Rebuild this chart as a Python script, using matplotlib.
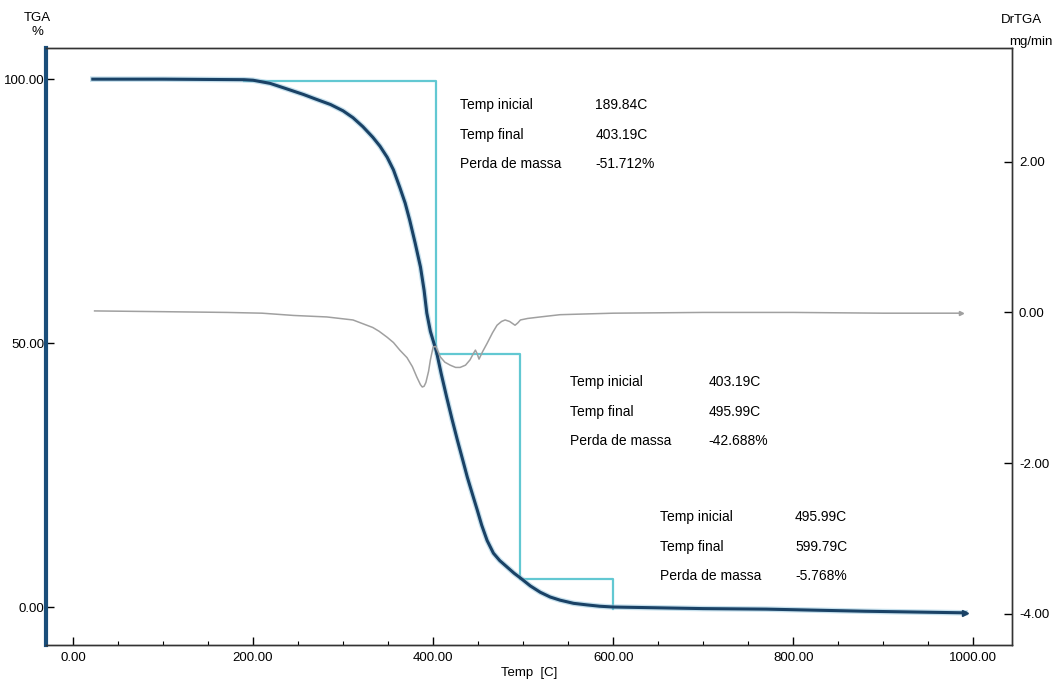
import numpy as np
import matplotlib.pyplot as plt
from matplotlib.ticker import MultipleLocator, FormatStrFormatter

plt.rcParams['font.family'] = ['Liberation Sans Narrow', 'Liberation Sans', 'DejaVu Sans']

# curva TGA (%)
temp_tga = [22, 100, 190, 200, 219, 235, 256, 270, 286, 300, 311, 322, 333, 341, 349, 356,
            363, 369, 374, 380, 386, 390, 393, 397, 400, 404, 409, 415, 421, 427, 433, 438,
            444, 449, 454, 460, 467, 474, 482, 490, 497, 508, 519, 530, 541, 556, 571, 585,
            600, 700, 770, 880, 991]
tga = [100.0, 100.0, 99.9, 99.8, 99.2, 98.3, 97.1, 96.2, 95.2, 94.0, 92.7, 91.0, 89.0, 87.3,
       85.2, 82.8, 79.5, 76.5, 73.3, 69.0, 64.4, 60.0, 55.7, 52.2, 50.5, 48.2, 44.2, 39.8,
       35.6, 31.6, 27.8, 24.6, 21.2, 18.4, 15.5, 12.6, 10.2, 8.8, 7.6, 6.4, 5.5, 4.0, 2.8,
       1.9, 1.3, 0.7, 0.4, 0.15, 0.0, -0.3, -0.4, -0.8, -1.1]

# curva DrTGA (mg/min)
temp_dr = [24, 100, 171, 210, 245, 282, 311, 322, 333, 340, 349, 356, 363, 371, 377, 382,
           386, 388, 390, 392, 395, 397, 400, 403, 408, 413, 419, 425, 430, 436, 441, 445,
           447, 449, 451, 455, 460, 466, 471, 476, 480, 485, 491, 494, 497, 505, 519, 541,
           570, 600, 700, 800, 900, 986]
drtga = [0.02, 0.01, 0.0, -0.01, -0.04, -0.06, -0.10, -0.15, -0.20, -0.25, -0.33, -0.40,
         -0.50, -0.60, -0.72, -0.86, -0.96, -0.99, -0.98, -0.93, -0.78, -0.63, -0.46, -0.45,
         -0.59, -0.66, -0.70, -0.73, -0.73, -0.70, -0.63, -0.54, -0.50, -0.55, -0.62, -0.52,
         -0.41, -0.27, -0.17, -0.12, -0.10, -0.12, -0.17, -0.14, -0.10, -0.08, -0.06, -0.03,
         -0.02, -0.01, 0.0, 0.0, -0.01, -0.01]

# etapas de perda de massa
t_inicial = [189.84, 403.19, 495.99]
t_final = [403.19, 495.99, 599.79]
perda = [-51.712, -42.688, -5.768]
nivel_inicial = 99.7

fig = plt.figure(figsize=(10.57, 6.83), dpi=100)
ax = fig.add_axes([0.0435, 0.0556, 0.9139, 0.8741])
ax2 = ax.twinx()

# degraus
sx, sy = [], []
nivel = nivel_inicial
for ti, tf, p in zip(t_inicial, t_final, perda):
    sx += [ti, tf, tf]
    sy += [nivel, nivel, nivel + p]
    nivel = nivel + p
ax.plot(sx, sy, color='#62c8d2', lw=1.6, zorder=2)

ax.plot(temp_tga, tga, color='#8fc3dc', lw=4.0, alpha=0.5, zorder=3)
ax.plot(temp_tga, tga, color='#1a4266', lw=2.2, zorder=4)
ax.plot(temp_tga[-1], tga[-1], marker='>', ms=4, color='#1a4266', zorder=4)

ax2.plot(temp_dr, drtga, color='#a0a0a0', lw=1.1)
ax2.plot(temp_dr[-1], drtga[-1], marker='>', ms=3, color='#a0a0a0')

ax.set_xlim(-30, 1043)
ax.set_ylim(-7.2, 105.9)
ax2.set_ylim(-4.415, 3.51)

ax.xaxis.set_major_locator(MultipleLocator(200))
ax.xaxis.set_minor_locator(MultipleLocator(50))
ax.yaxis.set_major_locator(MultipleLocator(50))
ax2.yaxis.set_major_locator(MultipleLocator(2))
for a in (ax.xaxis, ax.yaxis, ax2.yaxis):
    a.set_major_formatter(FormatStrFormatter('%.2f'))

ax.tick_params(axis='x', direction='in', length=6, width=1, pad=5, labelsize=9.5)
ax.tick_params(axis='x', which='minor', direction='in', length=3, width=0.8)
ax.tick_params(axis='y', direction='in', length=6, width=1, pad=1, labelsize=9.5)
ax2.tick_params(axis='y', direction='in', length=6, width=1, pad=5, labelsize=9.5)

for s in ['top', 'bottom', 'right']:
    ax.spines[s].set_color('#333333')
    ax2.spines[s].set_color('#333333')
    ax.spines[s].set_linewidth(1.0)
    ax2.spines[s].set_linewidth(1.0)
ax2.spines['left'].set_visible(False)
ax.spines['left'].set_color('#1a4e7a')
ax.spines['left'].set_linewidth(3)

ax.set_xlabel('Temp  [C]', fontsize=9.5, labelpad=2)
fig.text(0.0355, 0.973, 'TGA', fontsize=9.5, ha='center', va='center')
fig.text(0.0355, 0.953, '%', fontsize=9.5, ha='center', va='center')
fig.text(0.9665, 0.971, 'DrTGA', fontsize=9.5, ha='center', va='center')
fig.text(0.975, 0.939, 'mg/min', fontsize=9.5, ha='center', va='center')

# tabelas de cada etapa
pos_rotulo = [430, 552, 652]
pos_valor = [580, 706, 802]
pos_topo = [95.1, 42.6, 17.0]
for i in range(3):
    linhas = [('Temp inicial', '%.2fC' % t_inicial[i]),
              ('Temp final', '%.2fC' % t_final[i]),
              ('Perda de massa', '%.3f%%' % perda[i])]
    for j, (r, v) in enumerate(linhas):
        y = pos_topo[i] - j * 5.6
        ax.text(pos_rotulo[i], y, r, fontsize=10, va='center', ha='left')
        ax.text(pos_valor[i], y, v, fontsize=10, va='center', ha='left')

fig.savefig('out.png', dpi=100)
